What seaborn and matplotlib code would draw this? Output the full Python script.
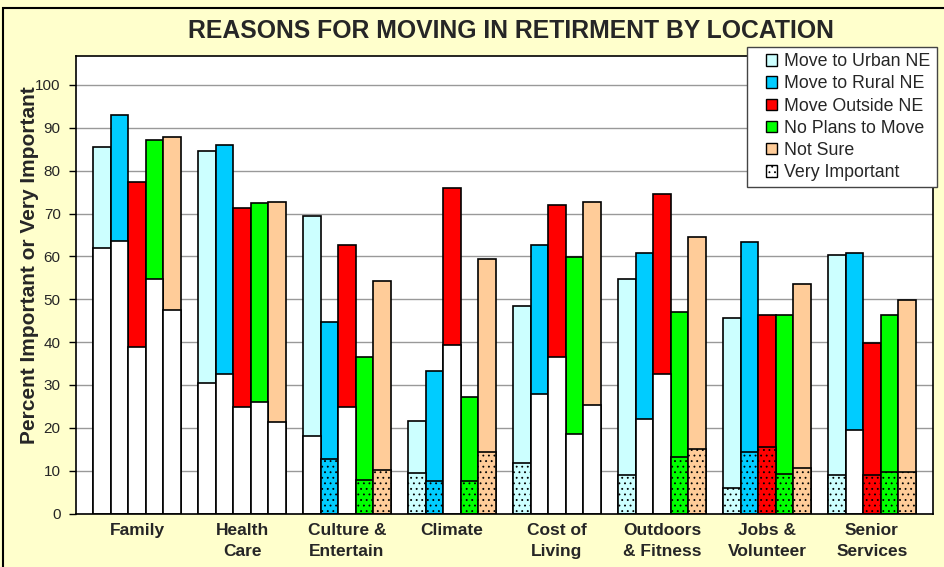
import pandas as pd
import matplotlib
matplotlib.use("Agg")
import matplotlib.pyplot as plt
from matplotlib.patches import Patch, Rectangle
from matplotlib.legend_handler import HandlerPatch
import seaborn as sns

reasons = ["Family", "Health\nCare", "Culture &\nEntertain", "Climate",
           "Cost of\nLiving", "Outdoors\n& Fitness", "Jobs &\nVolunteer", "Senior\nServices"]
locations = ["Move to Urban NE", "Move to Rural NE", "Move Outside NE",
             "No Plans to Move", "Not Sure"]

# percent "important or very important" (bar tops)
urban_total = [85.5, 84.7, 69.5, 21.7, 48.5, 54.7, 45.6, 60.4]
rural_total = [93.1, 86.1, 44.8, 33.3, 62.6, 60.8, 63.4, 60.8]
outside_total = [77.4, 71.3, 62.6, 76.0, 72.1, 74.6, 46.3, 39.8]
noplans_total = [87.2, 72.4, 36.5, 27.1, 59.8, 47.0, 46.3, 46.3]
notsure_total = [87.9, 72.7, 54.3, 59.4, 72.8, 64.5, 53.6, 49.9]

# percent "very important" (lower segment)
urban_very = [61.9, 30.4, 18.1, 9.4, 11.9, 9.1, 6.0, 9.0]
rural_very = [63.7, 32.6, 12.7, 7.6, 27.8, 22.1, 14.4, 19.5]
outside_very = [38.8, 24.9, 24.9, 39.4, 36.5, 32.6, 15.5, 9.0]
noplans_very = [54.7, 26.0, 7.8, 7.5, 18.5, 13.3, 9.3, 9.6]
notsure_very = [47.5, 21.4, 10.1, 14.4, 25.3, 15.1, 10.7, 9.8]

# 1 = very important segment drawn shaded/dotted, 0 = drawn white
urban_dotted = [0, 0, 0, 1, 1, 1, 1, 1]
rural_dotted = [0, 0, 1, 1, 0, 0, 1, 0]
outside_dotted = [0, 0, 0, 0, 0, 0, 1, 1]
noplans_dotted = [0, 0, 1, 1, 0, 1, 1, 1]
notsure_dotted = [0, 0, 1, 1, 0, 1, 1, 1]

colors = ["#CCFFFF", "#00CCFF", "#FF0000", "#00FF00", "#FFCC99"]

totals = [urban_total, rural_total, outside_total, noplans_total, notsure_total]
verys = [urban_very, rural_very, outside_very, noplans_very, notsure_very]
dotted = [urban_dotted, rural_dotted, outside_dotted, noplans_dotted, notsure_dotted]

rows = []
for loc, tot, vi, dt in zip(locations, totals, verys, dotted):
    for r, t, v, d in zip(reasons, tot, vi, dt):
        rows.append({"reason": r, "location": loc, "total": t, "very": v, "dotted": d})
df = pd.DataFrame(rows)

sns.set_style("white")
plt.rcParams["font.family"] = ["Liberation Sans", "DejaVu Sans"]
plt.rcParams["hatch.linewidth"] = 0.6

W, H = 944, 567
fig = plt.figure(figsize=(W / 100, H / 100), dpi=100, facecolor="#FFFFCC")
left, right, top, bottom = 76, 933, 56, 513.5
ax = fig.add_axes([left / W, 1 - bottom / H, (right - left) / W, (bottom - top) / H])
ax.set_facecolor("white")

common = dict(hue="location", hue_order=locations, order=reasons, palette=colors,
              saturation=1, width=0.838, edgecolor="black", linewidth=1.2,
              errorbar=None, legend=False, ax=ax)
sns.barplot(data=df, x="reason", y="total", **common)
sns.barplot(data=df, x="reason", y="very", **common)

for i, cont in enumerate(ax.containers[5:]):
    for j, bar in enumerate(cont):
        if dotted[i][j]:
            bar.set_hatch("...")
        else:
            bar.set_facecolor("white")

ax.set_ylim(0, (bottom - top) / 4.285)
ax.set_xlim(-0.581, 7.581)
ax.set_yticks(range(0, 101, 10))
ax.set_axisbelow(True)
ax.yaxis.grid(True, color="#999999", linewidth=1)
ax.tick_params(axis="y", direction="out", length=5, width=1, color="black",
               labelsize=11, pad=6, left=True)
ax.tick_params(axis="x", length=0, labelsize=12.5, pad=7)
for lab in ax.get_xticklabels():
    lab.set_fontweight("bold")
    lab.set_linespacing(1.5)
for s in ax.spines.values():
    s.set_color("black")
    s.set_linewidth(1.2)
ax.set_xlabel("")
ax.set_ylabel("Percent Important or Very Important", fontsize=15, fontweight="bold")
ax.yaxis.set_label_coords(-0.043, 0.542)

fig.text(511 / W, 1 - 31.5 / H, "REASONS FOR MOVING IN RETIRMENT BY LOCATION",
         ha="center", va="center", fontsize=17.8, fontweight="bold")


def right_square(legend, orig_handle, xdescent, ydescent, width, height, fontsize):
    return Rectangle((-xdescent + width - height, -ydescent), height, height)


handles = [Patch(facecolor=c, edgecolor="black", label=l) for c, l in zip(colors, locations)]
handles.append(Patch(facecolor="white", edgecolor="black", hatch="...", label="Very Important"))
fig.legend(handles=handles, loc="upper left", bbox_to_anchor=(747 / W, 1 - 47 / H),
           frameon=True, fancybox=False, edgecolor="#444444", framealpha=1,
           fontsize=12.8, handlelength=1.35, handleheight=0.62, handletextpad=0.4,
           labelspacing=0.29, borderpad=0.35, borderaxespad=0,
           handler_map={Patch: HandlerPatch(patch_func=right_square)})

fig.patches.append(Rectangle((3 / W, -0.05), 1.2, (H - 8) / H + 0.05,
                             transform=fig.transFigure, fill=False,
                             edgecolor="black", linewidth=1.5))

fig.savefig("out.png", dpi=100, facecolor=fig.get_facecolor())
